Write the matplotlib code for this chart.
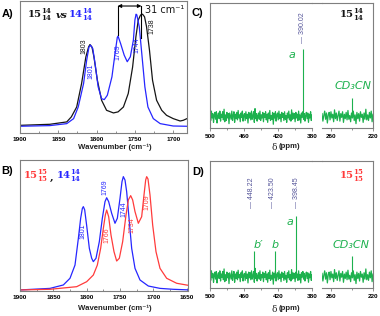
import numpy as np
import matplotlib
matplotlib.use('Agg')
import matplotlib.pyplot as plt
from matplotlib.ticker import FixedLocator
from matplotlib.lines import Line2D

plt.rcParams['mathtext.fontset'] = 'dejavuserif'

# ---------------- data ----------------
# Panel A (IR): 15(14,14) black vs 14(14,14) blue
irA_blue_wn = [1900, 1861, 1839, 1830, 1824, 1817, 1813, 1810, 1808, 1805, 1802, 1798, 1793.5, 1790,
               1786, 1780, 1776, 1773, 1772, 1768.7, 1764, 1760, 1756, 1752, 1750, 1748.5, 1747.5, 1744.3,
               1741, 1737, 1733, 1726, 1717, 1700, 1682]
irA_blue_y = [5.1, 5.6, 7.1, 10.9, 19.7, 37.5, 55, 65, 66.6, 64, 52.6, 35, 26, 25.3,
              28.6, 42.5, 60, 72.4, 73.4, 67.8, 59, 54, 57.7, 70.4, 85.6, 90, 89.5, 80.5,
              60, 35, 19.7, 10.9, 7.1, 5.3, 5.1]
irA_black_wn = [1900, 1861, 1839, 1833, 1826, 1819.6, 1814, 1810.4, 1808.7, 1806, 1803.5, 1799, 1793.5,
                1787, 1778, 1772, 1765, 1758.7, 1753, 1748.7, 1745.6, 1742.6, 1740, 1737.4, 1734.8,
                1731, 1727, 1721.7, 1715, 1708.7, 1700, 1691, 1687, 1682]
irA_black_y = [5.8, 6.6, 8.4, 12.2, 19.7, 37.5, 57.7, 65.3, 67, 65, 57.7, 40, 24.8,
               17.2, 15.2, 16, 19.7, 29.9, 50, 72.9, 85.6, 89.4, 90, 88, 80.5,
               62.8, 40, 24.8, 17.2, 13.4, 10.9, 9.1, 9.6, 10.9]

# Panel B (IR): 15(15,15) red, 14(14,14) blue
irB_blue_wn = [1900, 1855, 1835, 1825, 1817.5, 1812.5, 1809, 1806.5, 1805, 1803, 1800, 1796, 1792.5, 1790,
               1786, 1781, 1776.5, 1772.5, 1770, 1767, 1762.5, 1757.5, 1754, 1750, 1747, 1745, 1742.5,
               1740, 1736, 1732.5, 1727.5, 1720, 1707.5, 1690, 1670, 1645]
irB_blue_y = [0.8, 2, 4.6, 9.7, 19.8, 40, 55.5, 63, 64.4, 62, 50, 32.6, 25, 22.4,
              25, 37.7, 55.5, 68.2, 71.2, 68.2, 59.3, 51.7, 55.5, 70.7, 83.5, 87.3, 84.7,
              75.8, 53, 32.6, 17.3, 8.4, 3.8, 2, 1.3, 0.8]
irB_red_wn = [1900, 1855, 1815, 1800, 1790, 1784, 1779, 1775, 1772, 1770, 1767, 1763.5, 1759, 1755,
              1751, 1746, 1741, 1737.5, 1734, 1731, 1727.5, 1722.5, 1717.5, 1714, 1711.5, 1710, 1708,
              1705, 1701, 1696, 1690, 1680, 1665, 1645]
irB_red_y = [0.8, 1.3, 3.3, 7.1, 12.2, 19.8, 32.6, 47.8, 58, 61.8, 56.7, 42.7, 30, 22.9,
             25, 37.7, 58, 69.5, 72.8, 69.5, 60.6, 51.7, 56.7, 73.3, 84.7, 87.3, 85.5,
             73.3, 50.4, 30, 17.3, 9.7, 5.9, 4.1]

irA_ticks = [1900, 1850, 1800, 1750, 1700]
irB_ticks = [1900, 1850, 1800, 1750, 1700, 1650]

# Panels C, D (15N NMR)
nmr_noise_left = [0.3, -0.6, 0.9, -0.2, 0.5, -0.9, 0.1, 0.7, -0.4, 0.8, -1.0, 0.2, 0.6, -0.3, 0.9, -0.7,
                  0.4, -0.1, 0.8, -0.5, 1.2, -0.8, 0.3, -0.6, 0.7, -0.2, 0.5, -1.1, 0.6, 0.1, -0.4, 0.9,
                  -0.6, 0.2, 0.8, -0.9, 0.4, -0.3, 0.7, -0.5, 1.0, -0.2, 0.3, -0.8, 0.6, -0.1, 0.9, -0.7,
                  0.2, 0.5, -0.6, 0.8, -0.3, 0.4, -1.0, 0.7, -0.2, 0.6, -0.5, 0.9, -0.4, 0.1, 0.8, -0.9,
                  1.3, -0.3, 0.5, -0.7, 0.2, 0.6, -0.4, 0.9, -0.6, 0.3, -0.2, 0.7, -0.8, 0.5, -0.1, 0.8,
                  -0.5, 0.4, -0.9, 0.6, -0.3, 1.0, -0.6, 0.2, -0.4, 0.7, -1.2, 0.5, -0.2, 0.8, -0.7, 0.3,
                  0.6, -0.5, 0.9, -0.3, 0.4, -0.8, 0.7, -0.1, 0.5, -0.6, 0.8, -0.4, 0.2, -0.9, 0.6, -0.2,
                  0.9, -0.5, 0.3, -0.7, 1.1, -0.4, 0.6, -0.3, 0.5, -0.8, 0.7, -0.2, 0.4, -0.6, 0.9, -0.5,
                  0.3, -1.0, 0.6, -0.1, 0.8, -0.4, 0.5, -0.7, 0.2, 0.7, -0.3, 0.6, -0.9, 0.4, -0.2, 0.8,
                  -0.6, 0.3]
nmr_noise_right = [0.5, -0.7, 0.2, 0.9, -0.4, 0.6, -1.0, 0.3, 0.7, -0.5, 0.8, -0.2, 0.4, -0.8, 1.1, -0.3,
                   0.6, -0.6, 0.2, 0.9, -0.7, 0.5, -0.1, 0.8, -0.9, 0.4, -0.3, 0.7, -0.5, 1.0, -0.4, 0.2,
                   -0.8, 0.6, -0.2, 0.9, -0.6, 0.3, -1.1, 0.7, -0.3, 0.5, -0.7, 0.8, -0.1, 0.4, -0.9, 0.6,
                   -0.4, 1.2, -0.5, 0.3, -0.6, 0.7, -0.2, 0.9, -0.8, 0.4]
nmr_baseline = 9.0
nmr_noise_amp = 5.0
nmrC_peaks_ppm = [390.02, 240.0]
nmrC_peaks_h = [63.0, 24.0]
nmrD_peaks_ppm = [448.22, 423.50, 398.45, 240.0]
nmrD_peaks_h = [28.9, 28.9, 56.8, 25.3]
nmr_left_ticks = [500, 460, 420, 380]
nmr_left_minor = [480, 440, 400]
nmr_right_ticks = [260, 220]
nmr_right_minor = [240]

# ---------------- figure ----------------
W, H = 380, 316
fig = plt.figure(figsize=(3.8, 3.16), dpi=100)

def fx(x):
    return x / W

def fy(y):
    return 1 - y / H

def box(l, t, r, b):
    return [fx(l), fy(b), (r - l) / W, (b - t) / H]

SPINE = '#7f7f7f'
BLUE = '#2626ff'
RED = '#ff3b3b'
BLACK = '#151515'
GREEN = '#1db14e'
NUMC = '#55559a'
SANS = ['Liberation Sans', 'DejaVu Sans']

def style_ir(ax, ticks, xlim):
    ax.set_xlim(*xlim)
    ax.set_ylim(0, 100)
    ax.set_yticks([])
    ax.xaxis.set_major_locator(FixedLocator(ticks))
    ax.xaxis.set_minor_locator(FixedLocator([t - 25 for t in ticks]))
    ax.set_xticklabels([str(t) for t in ticks])
    for s in ax.spines.values():
        s.set_color(SPINE)
        s.set_linewidth(0.8)
    ax.tick_params(axis='x', which='both', direction='in', color=SPINE, width=0.6, pad=3)
    ax.tick_params(axis='x', which='major', length=2.5)
    ax.tick_params(axis='x', which='minor', length=1.5)
    for lab in ax.get_xticklabels():
        lab.set_fontsize(4.6)
        lab.set_fontweight('bold')
        lab.set_family(SANS)

# Panel A
axA = fig.add_axes(box(20, 1, 187, 133))
axA.plot(irA_black_wn, irA_black_y, color=BLACK, lw=0.9)
axA.plot(irA_blue_wn, irA_blue_y, color=BLUE, lw=0.9)
style_ir(axA, irA_ticks, (1900, 1682))
axA.annotate('', xy=(1772.5, 96.2), xytext=(1741.5, 96.2),
             arrowprops=dict(arrowstyle='<|-|>', color='black', lw=0.8, mutation_scale=5,
                             shrinkA=0, shrinkB=0))
axA.plot([1772.5, 1772.5], [96.2, 74], color='black', lw=0.8)
axA.plot([1741.5, 1741.5], [96.2, 72], color='black', lw=0.8)

# Panel B
axB = fig.add_axes(box(20, 160, 188, 291))
axB.plot(irB_blue_wn, irB_blue_y, color=BLUE, lw=0.9)
axB.plot(irB_red_wn, irB_red_y, color=RED, lw=0.9)
style_ir(axB, irB_ticks, (1900, 1648))

def nmr_panel(top, bottom, peaks_ppm, peaks_h):
    a1 = fig.add_axes(box(210, top, 312, bottom))
    a2 = fig.add_axes(box(322, top, 373, bottom))
    xl = np.linspace(500, 380, len(nmr_noise_left))
    xr = np.linspace(268, 220, len(nmr_noise_right))
    a1.plot(xl, nmr_baseline + nmr_noise_amp * np.array(nmr_noise_left), color=GREEN, lw=0.9)
    a2.plot(xr, nmr_baseline + nmr_noise_amp * np.array(nmr_noise_right), color=GREEN, lw=0.9)
    for a, lo, hi in ((a1, 380, 500), (a2, 220, 268)):
        for p, h in zip(peaks_ppm, peaks_h):
            if lo <= p <= hi:
                a.vlines(p, nmr_baseline, h, color=GREEN, lw=0.8)
    a1.set_xlim(500, 380)
    a2.set_xlim(268, 220)
    for a, maj, mnr in ((a1, nmr_left_ticks, nmr_left_minor), (a2, nmr_right_ticks, nmr_right_minor)):
        a.set_ylim(0, 100)
        a.set_yticks([])
        a.xaxis.set_major_locator(FixedLocator(maj))
        a.xaxis.set_minor_locator(FixedLocator(mnr))
        a.set_xticklabels([str(t) for t in maj])
        for s in a.spines.values():
            s.set_color(SPINE)
            s.set_linewidth(0.8)
        a.tick_params(axis='x', which='both', direction='out', color=SPINE, width=0.6, pad=1.5)
        a.tick_params(axis='x', which='major', length=2.5)
        a.tick_params(axis='x', which='minor', length=1.5)
        for lab in a.get_xticklabels():
            lab.set_fontsize(4.6)
            lab.set_fontweight('bold')
            lab.set_family(SANS)
    a1.spines['right'].set_visible(False)
    a2.spines['left'].set_visible(False)
    p1 = a1.get_position()
    p2 = a2.get_position()
    fig.add_artist(Line2D([p1.x1, p2.x0], [p1.y1, p1.y1], transform=fig.transFigure,
                          color=SPINE, lw=0.8))
    return a1, a2

axC1, axC2 = nmr_panel(3, 128, nmrC_peaks_ppm, nmrC_peaks_h)
axD1, axD2 = nmr_panel(161, 288, nmrD_peaks_ppm, nmrD_peaks_h)

# ---------------- texts ----------------
def T(x, y, s, **kw):
    kw.setdefault('ha', 'left')
    kw.setdefault('va', 'center')
    return fig.text(fx(x), fy(y), s, **kw)

# panel letters
for x, y, s in ((1.5, 14, 'A)'), (1, 171, 'B)'), (192, 13, 'C)'), (192, 172, 'D)')):
    T(x, y, s, fontsize=8, fontweight='bold', family=SANS)

F1414 = r'$\mathbf{15}^{\mathbf{14}}_{\mathbf{14}}$'
F1515 = r'$\mathbf{15}^{\mathbf{15}}_{\mathbf{15}}$'
F14 = r'$\mathbf{14}^{\mathbf{14}}_{\mathbf{14}}$'
FS = 7.2

# panel A title
T(27, 15.5, F1414, fontsize=FS, color=BLACK)
T(55.5, 16, 'vs', fontsize=7.5, family='DejaVu Serif', style='italic', fontweight='bold', color=BLACK)
T(68, 15.5, F14, fontsize=FS, color=BLUE)
# panel B title
T(23, 176.5, F1515, fontsize=FS, color=RED)
T(50, 178, ',', fontsize=7.5, family='DejaVu Serif', fontweight='bold', color=BLACK)
T(56, 176.5, F14, fontsize=FS, color=BLUE)
# panel C / D titles
T(339, 15, F1414, fontsize=FS, color=BLACK)
T(339, 176, F1515, fontsize=FS, color=RED)

# IR peak labels
peak_kw = dict(fontsize=5, rotation=90, ha='center', va='center', family=SANS)
for x, y, s, c in ((83.7, 45.8, '1803', BLACK), (91, 70.8, '1801', BLUE), (117.8, 51.7, '1769', BLUE),
                   (137, 45, '1744', BLUE), (152, 26, '1738', BLACK),
                   (83, 231.7, '1801', BLUE), (104.7, 187.5, '1769', BLUE), (106.7, 235, '1766', RED),
                   (123.5, 209, '1744', BLUE), (132, 225, '1734', RED), (147, 201.7, '1709', RED)):
    T(x, y, s, color=c, **peak_kw)

T(145, 10, '31 cm\u207b\u00b9', fontsize=7, family=['DejaVu Sans'], color=BLACK)

# axis labels
xl_kw = dict(fontsize=5.6, fontweight='bold', family=SANS, ha='center', color='#222222')
T(114.5, 147.5, 'Wavenumber (cm\u207b\u00b9)', **xl_kw)
T(114.5, 308, 'Wavenumber (cm\u207b\u00b9)', **xl_kw)
for y in (147, 309):
    T(274, y, '\u03b4', fontsize=6.5, family='DejaVu Serif', ha='center', color='#222222')
    T(278.5, y, '(ppm)', fontsize=5.6, fontweight='bold', family=SANS, ha='left', color='#222222')

# NMR shift labels
num_kw = dict(fontsize=5, rotation=90, ha='center', va='bottom', family=SANS, color=NUMC)
T(303, 43, '\u2014 390.02', **num_kw)
T(251.7, 208, '\u2014 448.22', **num_kw)
T(273, 208, '\u2014 423.50', **num_kw)
T(296, 208, '\u2014 398.45', **num_kw)

# NMR peak letters
g_kw = dict(fontsize=8, style='italic', family=['DejaVu Sans'], color=GREEN, ha='center')
T(292, 55, 'a', **g_kw)
T(353.5, 86, 'CD\u2083CN', **g_kw)
T(258, 245, 'b\u2032', **g_kw)
T(275.5, 245, 'b', **g_kw)
T(289.5, 222, 'a', **g_kw)
T(351, 245, 'CD\u2083CN', **g_kw)

fig.savefig('out.png', dpi=100)
